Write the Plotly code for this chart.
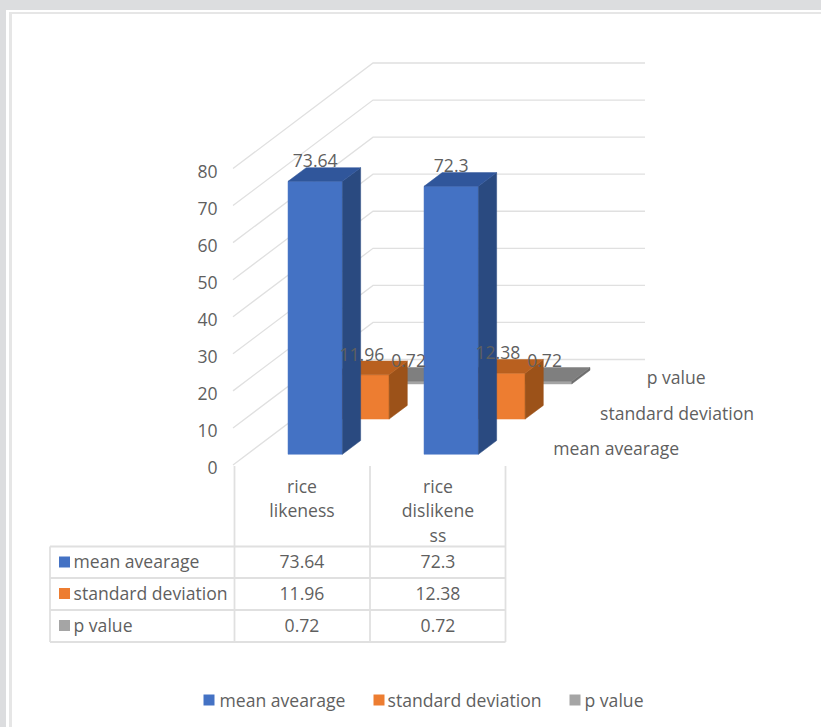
import plotly.graph_objects as go

# ---- data ----
categories = ["rice likeness", "rice dislikeness"]
series_names = ["mean avearage", "standard deviation", "p value"]
mean_avearage = [73.64, 72.3]
standard_deviation = [11.96, 12.38]
p_value = [0.72, 0.72]
value_labels = [["73.64", "72.3"], ["11.96", "12.38"], ["0.72", "0.72"]]
header_lines = [["rice", "likeness"], ["rice", "dislikene", "ss"]]
value_ticks = [0, 10, 20, 30, 40, 50, 60, 70, 80]

series_values = [mean_avearage, standard_deviation, p_value]

# ---- styles ----
W, H = 821, 727
FONT = "Open Sans"
TXT = "#5F5F5F"
FS = 17.6
TEXT_DY = 2.5
front_cols = ["#4472C4", "#ED7D31", "#A5A5A5"]
side_cols = ["#2A4A80", "#9C5219", "#6E6E6E"]
top_cols = ["#30569B", "#B9601F", "#7F7F7F"]
GRID = "#E0E0E0"
TABLE = "#E0E0E0"

# ---- oblique projection of the 3-D chart box onto the picture ----
X0, Y0 = 233.0, 465.0      # front-left floor corner
CAT_W = 136.0
DEP_X, DEP_Y = 46.67, 35.17
V_SCALE = 3.706
BAR_OFF, BAR_W = 0.30, 0.40
DEP_OFF, DEP_T = 0.305, 0.39


def proj(c, d, v):
    return X0 + c * CAT_W + d * DEP_X, Y0 - v * V_SCALE - d * DEP_Y


def poly(points):
    xs, ys = [], []
    for c, d, v in points:
        x, y = proj(c, d, v)
        xs.append(x)
        ys.append(y)
    xs.append(xs[0])
    ys.append(ys[0])
    return xs, ys


def add_poly(fig, xs, ys, color):
    fig.add_trace(go.Scatter(x=xs, y=ys, mode="lines", fill="toself", fillcolor=color,
                             line=dict(width=0.5, color=color), hoverinfo="skip", showlegend=False))


def add_text(fig, xs, ys, texts, pos="middle center", size=FS):
    fig.add_trace(go.Scatter(x=xs, y=[y + TEXT_DY for y in ys], mode="text", text=texts, textposition=pos,
                             textfont=dict(family=FONT, size=size, color=TXT),
                             hoverinfo="skip", showlegend=False, cliponaxis=False))


fig = go.Figure()

# gridlines: left wall + back wall
gx, gy = [], []
n_cat = len(categories)
n_dep = len(series_names)
for t in value_ticks:
    for pt in (proj(0, 0, t), proj(0, n_dep, t), proj(n_cat, n_dep, t)):
        gx.append(pt[0])
        gy.append(pt[1])
    gx.append(None)
    gy.append(None)
fig.add_trace(go.Scatter(x=gx, y=gy, mode="lines", line=dict(color=GRID, width=1.3),
                         hoverinfo="skip", showlegend=False))

# bars, back to front
for s in reversed(range(n_dep)):
    for c in range(n_cat):
        v = series_values[s][c]
        c0, c1 = c + BAR_OFF, c + BAR_OFF + BAR_W
        d0, d1 = s + DEP_OFF, s + DEP_OFF + DEP_T
        add_poly(fig, *poly([(c0, d0, 0), (c1, d0, 0), (c1, d0, v), (c0, d0, v)]), front_cols[s])
        add_poly(fig, *poly([(c1, d0, 0), (c1, d1, 0), (c1, d1, v), (c1, d0, v)]), side_cols[s])
        add_poly(fig, *poly([(c0, d0, v), (c1, d0, v), (c1, d1, v), (c0, d1, v)]), top_cols[s])

# data labels
LABEL_UP = 21
lx, ly, lt = [], [], []
for s in range(n_dep):
    for c in range(n_cat):
        x, y = proj(c + BAR_OFF + BAR_W / 2, s + DEP_OFF, series_values[s][c])
        lx.append(x)
        ly.append(y - LABEL_UP)
        lt.append(value_labels[s][c])
add_text(fig, lx, ly, lt)

# depth-axis labels
dx, dy = [], []
for s in range(n_dep):
    x, y = proj(n_cat, s + 0.5, 0)
    dx.append(x + 25)
    dy.append(y + 0.5)
add_text(fig, dx, dy, series_names, pos="middle right")

# data table grid
col_x = [234.5, 370, 505.5]
row_y = [546.5, 578, 610, 642]
tx, ty = [], []
for y in row_y:
    tx += [50, col_x[-1], None]
    ty += [y, y, None]
for x in col_x:
    tx += [x, x, None]
    ty += [466, row_y[-1], None]
tx += [50, 50, None]
ty += [row_y[0], row_y[-1], None]
fig.add_trace(go.Scatter(x=tx, y=ty, mode="lines", line=dict(color=TABLE, width=1.8),
                         hoverinfo="skip", showlegend=False))

# table header and cells
col_centers = [302, 438]
header_y = [486, 510.5, 535]
hx, hy, ht = [], [], []
for i, lines in enumerate(header_lines):
    for j, line in enumerate(lines):
        hx.append(col_centers[i])
        hy.append(header_y[j])
        ht.append(line)
add_text(fig, hx, hy, ht)

row_centers = [561.5, 593, 625]
cx, cy, ct = [], [], []
for s in range(n_dep):
    for c in range(n_cat):
        cx.append(col_centers[c])
        cy.append(row_centers[s])
        ct.append(value_labels[s][c])
add_text(fig, cx, cy, ct)

add_text(fig, [73.5] * n_dep, row_centers, series_names, pos="middle right")
for s in range(n_dep):
    fig.add_trace(go.Scatter(x=[64.5], y=[row_centers[s] + 0.5], mode="markers",
                             marker=dict(symbol="square", size=11, color=front_cols[s], line=dict(width=0)),
                             hoverinfo="skip", showlegend=False))

# bottom legend
leg_key_x = [209, 379, 575]
leg_txt_x = [219.5, 387.5, 584.5]
LEG_Y = 700
for s in range(n_dep):
    fig.add_trace(go.Scatter(x=[leg_key_x[s]], y=[LEG_Y], mode="markers",
                             marker=dict(symbol="square", size=11, color=front_cols[s], line=dict(width=0)),
                             hoverinfo="skip", showlegend=False))
add_text(fig, leg_txt_x, [LEG_Y] * n_dep, series_names, pos="middle right")

# value axis: a real axis carrying the tick labels
fig.add_trace(go.Scatter(x=[0, 0], y=[value_ticks[0], value_ticks[-1]], yaxis="y2", mode="markers",
                         marker=dict(opacity=0), hoverinfo="skip", showlegend=False))

fig.update_layout(
    width=W, height=H,
    margin=dict(l=0, r=0, t=0, b=0, pad=0),
    paper_bgcolor="#DCDDDF",
    plot_bgcolor="rgba(0,0,0,0)",
    showlegend=False,
    xaxis=dict(range=[0, W], domain=[0, 1], visible=False, fixedrange=True, automargin=False),
    yaxis=dict(range=[H, 0], domain=[0, 1], visible=False, fixedrange=True, automargin=False),
    yaxis2=dict(range=[0, 80], domain=[(H - 467.5) / H, (H - 171.5) / H], anchor="free", automargin=False,
                position=217.5 / W, side="left", tickmode="array", tickvals=value_ticks,
                showgrid=False, zeroline=False, showline=False, ticks="",
                tickfont=dict(family=FONT, size=FS, color=TXT), fixedrange=True),
    shapes=[
        dict(type="rect", xref="x", yref="y", x0=6, x1=W, y0=10, y1=H, layer="below",
             fillcolor="#FFFFFF", line=dict(width=0)),
        dict(type="rect", xref="x", yref="y", x0=9, x1=W, y0=12, y1=H, layer="below",
             fillcolor="#E6E6E6", line=dict(width=0)),
        dict(type="rect", xref="x", yref="y", x0=12, x1=W, y0=14, y1=H, layer="below",
             fillcolor="#FFFFFF", line=dict(width=0)),
    ],
)

fig.write_html("out.html", config={"displayModeBar": False},
               post_script="document.body.style.margin='0';document.body.style.overflow='hidden';")
